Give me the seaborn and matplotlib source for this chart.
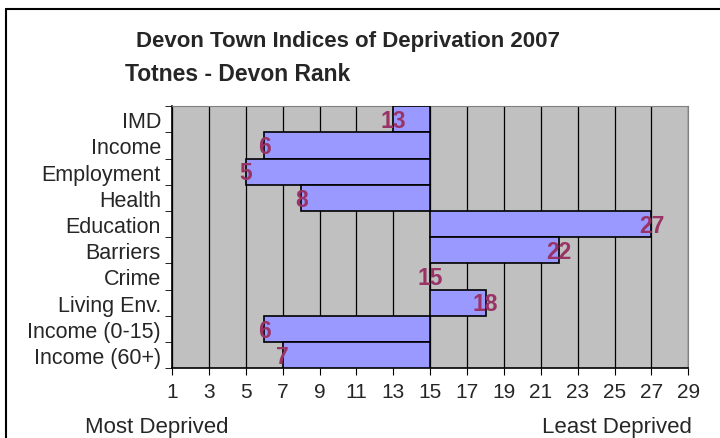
import matplotlib.pyplot as plt
import seaborn as sns
import pandas as pd

# Totnes - Devon rank per domain (1 = most deprived)
categories = ['IMD', 'Income', 'Employment', 'Health', 'Education', 'Barriers',
              'Crime', 'Living Env.', 'Income (0-15)', 'Income (60+)']
ranks = [13, 6, 5, 8, 27, 22, 15, 18, 6, 7]
midpoint = 15
x_ticks = list(range(1, 30, 2))

df = pd.DataFrame({'domain': categories, 'rank': ranks})
df['offset'] = df['rank'] - midpoint

sns.set_style('white')
plt.rcParams['font.family'] = ['Liberation Sans', 'DejaVu Sans']

fig = plt.figure(figsize=(7.2, 4.39), dpi=100)
ax = fig.add_axes([0.239, 0.159, 0.717, 0.597])
ax.set_facecolor('#c0c0c0')

sns.barplot(data=df, x='offset', y='domain', order=categories, orient='h',
            color='#9999ff', saturation=1, width=1.0, left=midpoint,
            edgecolor='black', linewidth=1.2, ax=ax, zorder=3)

for i, r in enumerate(ranks):
    ax.text(r, i + 0.05, str(r), ha='center', va='center', color='#993366',
            fontsize=16.5, fontweight='bold', zorder=4)

ax.set_xlim(1, 29)
ax.set_ylim(len(categories) - 0.5, -0.5)
ax.set_xticks(x_ticks)
ax.set_xticklabels([str(t) for t in x_ticks], fontsize=15)
ax.xaxis.grid(True, color='black', linewidth=0.9, zorder=1)
ax.set_axisbelow(True)

# category labels centred, tick marks on the boundaries
ax.set_yticks(range(len(categories)))
ax.set_yticklabels(categories, fontsize=15.5)
ax.tick_params(axis='y', length=0, pad=8)
ax.set_yticks([i - 0.5 for i in range(len(categories) + 1)], minor=True)
ax.tick_params(axis='y', which='minor', length=5, color='black', direction='out', left=True)
ax.tick_params(axis='x', length=5, color='black', direction='out', bottom=True, pad=5)
ax.set_xlabel('')
ax.set_ylabel('')

for side in ['top', 'right']:
    ax.spines[side].set_color('#808080')
for side in ['left', 'bottom']:
    ax.spines[side].set_color('black')
    ax.spines[side].set_linewidth(1.2)

fig.text(0.483, 0.905, 'Devon Town Indices of Deprivation 2007', ha='center',
         va='center', fontsize=16, fontweight='bold')
fig.text(0.173, 0.83, 'Totnes - Devon Rank', ha='left', va='center',
         fontsize=16.5, fontweight='bold')
fig.text(0.118, 0.027, 'Most Deprived', ha='left', va='center', fontsize=16)
fig.text(0.961, 0.027, 'Least Deprived', ha='right', va='center', fontsize=16)

# outer chart frame
fig.add_artist(plt.Line2D([0.008, 0.008], [0, 0.977], color='black', linewidth=1.5))
fig.add_artist(plt.Line2D([0.008, 1.0], [0.977, 0.977], color='black', linewidth=1.5))

fig.savefig('out.png', dpi=100)
